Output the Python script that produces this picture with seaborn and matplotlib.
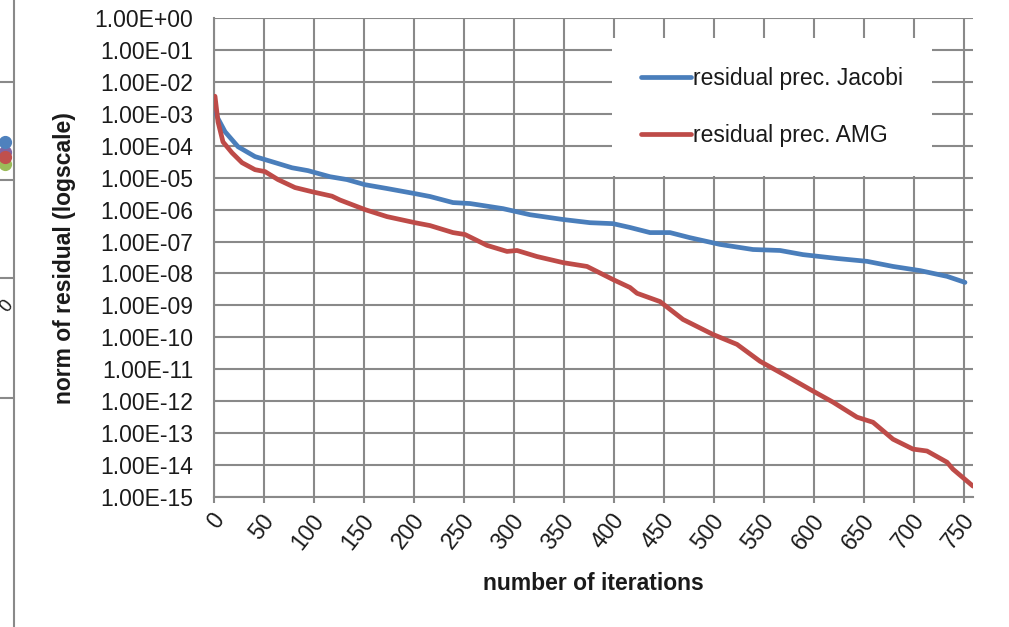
import numpy as np
import pandas as pd
import matplotlib
matplotlib.use("Agg")
import matplotlib.pyplot as plt
import matplotlib.transforms as mtransforms
from matplotlib.lines import Line2D
from matplotlib.ticker import FixedLocator, FuncFormatter, NullLocator
import seaborn as sns

# values (iteration, log10 of residual norm)
jacobi_iter = [1, 4, 11, 24, 41, 58, 78, 94, 116, 133, 151, 173, 201, 216, 239,
               256, 289, 316, 349, 376, 399, 416, 436, 456, 476, 506, 539, 566,
               589, 623, 653, 679, 706, 733, 751]
jacobi_log = [-2.9, -3.15, -3.56, -4.03, -4.34, -4.5, -4.69, -4.78, -4.97, -5.06,
              -5.22, -5.34, -5.5, -5.59, -5.78, -5.81, -5.97, -6.16, -6.31, -6.41,
              -6.44, -6.56, -6.72, -6.72, -6.88, -7.09, -7.25, -7.28, -7.41, -7.53,
              -7.62, -7.78, -7.91, -8.09, -8.28]

amg_iter = [1, 4, 9, 18, 28, 41, 51, 64, 81, 98, 118, 126, 151, 173, 201, 216,
            239, 251, 273, 293, 303, 323, 349, 373, 399, 416, 423, 446, 469, 499,
            523, 546, 573, 596, 619, 643, 659, 679, 699, 713, 733, 739, 759]
amg_log = [-2.45, -3.25, -3.88, -4.22, -4.53, -4.75, -4.81, -5.06, -5.31, -5.44,
           -5.58, -5.7, -6.0, -6.22, -6.41, -6.5, -6.72, -6.78, -7.12, -7.31,
           -7.28, -7.47, -7.66, -7.78, -8.19, -8.44, -8.62, -8.88, -9.44, -9.91,
           -10.22, -10.75, -11.22, -11.63, -12.03, -12.5, -12.66, -13.19, -13.5,
           -13.56, -13.91, -14.13, -14.66]

x_ticks = list(range(0, 751, 50))
labels = ["residual prec. Jacobi", "residual prec. AMG"]
colors = ["#4A7EBB", "#BE4B48"]

jac = pd.DataFrame({"iter": jacobi_iter, "res": 10.0 ** np.array(jacobi_log)})
amg = pd.DataFrame({"iter": amg_iter, "res": 10.0 ** np.array(amg_log)})

sns.set_theme(style="white")
plt.rcParams["font.family"] = ["Liberation Sans", "DejaVu Sans"]

W, H = 1009, 627
fig = plt.figure(figsize=(W / 100, H / 100), dpi=100)
ax = fig.add_axes([214 / W, 1 - 497 / H, (973 - 214) / W, (497 - 18) / H])

grid = "#898989"
fs = 16.5
sns.lineplot(data=jac, x="iter", y="res", color=colors[0], linewidth=3.4,
             estimator=None, label=labels[0], ax=ax, zorder=3)
sns.lineplot(data=amg, x="iter", y="res", color=colors[1], linewidth=3.4,
             estimator=None, label=labels[1], ax=ax, zorder=3)

ax.set_yscale("log")
ax.set_ylim(1e-15, 1)
ax.set_xlim(0, 759)
ax.yaxis.set_major_locator(FixedLocator([10.0 ** k for k in range(-15, 1)]))
ax.yaxis.set_minor_locator(NullLocator())
ax.yaxis.set_major_formatter(FuncFormatter(lambda v, p: f"{v:.2E}"))
ax.xaxis.set_major_locator(FixedLocator(x_ticks))
ax.grid(True, color=grid, linewidth=1.5)
ax.set_axisbelow(True)
for s in ["top", "right"]:
    ax.spines[s].set_visible(False)
for s in ["left", "bottom"]:
    ax.spines[s].set_color(grid)
    ax.spines[s].set_linewidth(1.5)
ax.tick_params(axis="y", length=0, pad=15, labelsize=fs, labelcolor="#1a1a1a")
ax.tick_params(axis="x", length=4, width=1.5, color=grid, pad=10,
               labelsize=fs, labelcolor="#1a1a1a", direction="out")
ax.tick_params(axis="x", bottom=True)
off = mtransforms.ScaledTranslation(6 / 100, 0, fig.dpi_scale_trans)
for lab in ax.get_xticklabels():
    lab.set_rotation(52)
    lab.set_ha("right")
    lab.set_va("center")
    lab.set_rotation_mode("anchor")
    lab.set_transform(lab.get_transform() + off)
ax.set_xlabel("")
ax.set_ylabel("")

leg = ax.legend(loc="upper left", bbox_to_anchor=(612 / W, 1 - 38 / H),
                bbox_transform=fig.transFigure, frameon=True, fancybox=False,
                facecolor="white", edgecolor="none", framealpha=1,
                fontsize=fs, handlelength=2.2, handletextpad=0.08,
                labelspacing=1.5, borderpad=1.25, borderaxespad=0)
leg.set_zorder(5)
for t in leg.get_texts():
    t.set_color("#1a1a1a")

fig.text(593 / W, 1 - 583 / H, "number of iterations", ha="center", va="center",
         fontsize=16.5, fontweight="bold", color="#1a1a1a")
fig.text(65 / W, 1 - 258 / H, "norm of residual (logscale)", ha="center",
         va="center", rotation=90, fontsize=16.5, fontweight="bold", color="#1a1a1a")

# bits of the neighbouring chart cut off at the left edge
fig.add_artist(Line2D([14 / W, 14 / W], [0, 1], transform=fig.transFigure,
                      color=grid, linewidth=1.5))
for yy in [82, 180, 278, 398]:
    fig.add_artist(Line2D([0, 14 / W], [1 - yy / H] * 2, transform=fig.transFigure,
                          color=grid, linewidth=1.5))
for yy, c in [(164, "#9BBB59"), (152, "#8064A2"), (157, "#C0504D"), (142, "#4F81BD")]:
    fig.add_artist(Line2D([5 / W], [1 - yy / H], transform=fig.transFigure,
                          marker="o", markersize=8.5, color=c, linestyle="none"))
fig.text(7 / W, 1 - 306 / H, "0", rotation=52, ha="center", va="center",
         fontsize=13, color="#1a1a1a")

fig.savefig("out.png", dpi=100, facecolor="white")
